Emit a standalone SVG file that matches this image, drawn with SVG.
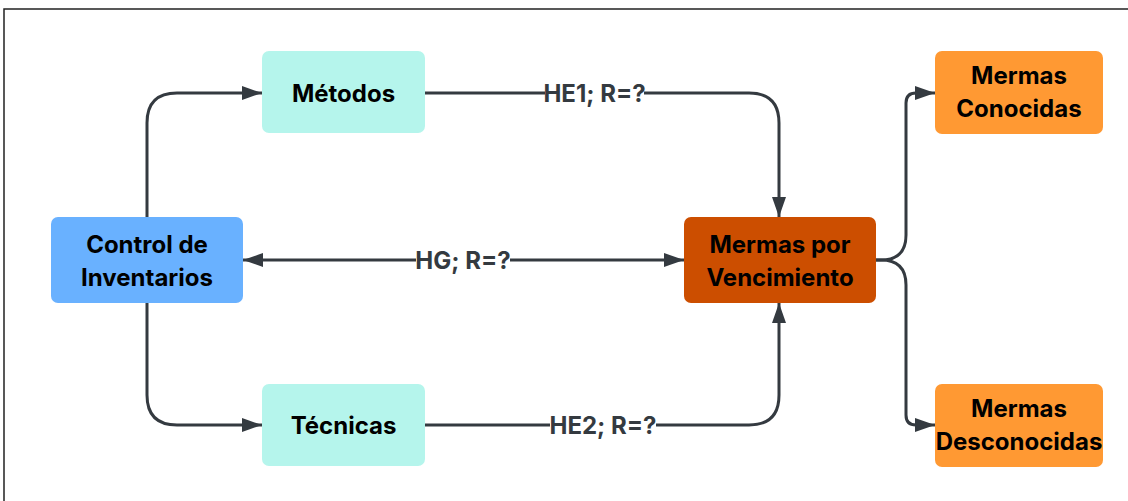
<svg xmlns="http://www.w3.org/2000/svg" width="1128" height="501" viewBox="0 0 1128 501">
<defs>
<marker id="ah" viewBox="0 0 20 14" refX="20" refY="7" markerWidth="20" markerHeight="14" markerUnits="userSpaceOnUse" orient="auto-start-reverse">
<path d="M0,0 L20,7 L0,14 Z" fill="#343a40"/>
</marker>
</defs>
<style>
.t{font-family:Inter,"Noto Sans","Liberation Sans",sans-serif;font-weight:700;font-size:24px;fill:#000;text-anchor:middle}
.l{font-family:Inter,"Noto Sans","Liberation Sans",sans-serif;font-weight:700;font-size:24px;fill:#343a40;text-anchor:middle}
.c{fill:none;stroke:#343a40;stroke-width:3;stroke-linejoin:round}
.bg{fill:#fff}
</style>
<rect x="0" y="0" width="1128" height="501" fill="#fff"/>
<rect x="4" y="9" width="1200" height="600" fill="none" stroke="#222" stroke-width="1.5"/>
<g id="connectors">
<path class="c" d="M147,217 V123 Q147,93 177,93 H262" marker-end="url(#ah)"/>
<path class="c" d="M147,303 V395 Q147,425 177,425 H262" marker-end="url(#ah)"/>
<path class="c" d="M425,93 H749 Q779,93 779,123 V217" marker-end="url(#ah)"/>
<path class="c" d="M425,425 H749 Q779,425 779,395 V303" marker-end="url(#ah)"/>
<path class="c" d="M243,260 H684" marker-start="url(#ah)" marker-end="url(#ah)"/>
<path class="c" d="M876,260 H881 Q906,260 906,235 V103 Q906,93 916,93 H935" marker-end="url(#ah)"/>
<path class="c" d="M876,260 H881 Q906,260 906,285 V415 Q906,425 916,425 H935" marker-end="url(#ah)"/>
<rect class="bg" x="545" y="80" width="99" height="26"/>
<text class="l" x="594.5" y="101.7">HE1; R=?</text>
<rect class="bg" x="416" y="247" width="94" height="26"/>
<text class="l" x="463" y="268.7">HG; R=?</text>
<rect class="bg" x="550" y="412" width="106" height="26"/>
<text class="l" x="603" y="433.7">HE2; R=?</text>
</g>
<g id="metodos">
<rect x="262" y="51" width="163" height="82" rx="7" fill="#b5f5ec"/>
<text class="t" x="343.5" y="101.7">Métodos</text>
</g>
<g id="tecnicas">
<rect x="262" y="384" width="163" height="82" rx="7" fill="#b5f5ec"/>
<text class="t" x="343.5" y="433.7">Técnicas</text>
</g>
<g id="control">
<rect x="51" y="217" width="192" height="86" rx="7" fill="#69b1ff"/>
<text class="t" x="147" y="252.7">Control de</text>
<text class="t" x="147" y="285.7">Inventarios</text>
</g>
<g id="vencimiento">
<rect x="684" y="217" width="192" height="86" rx="7" fill="#cc4e00"/>
<text class="t" x="780" y="252.7">Mermas por</text>
<text class="t" x="780" y="285.7">Vencimiento</text>
</g>
<g id="conocidas">
<rect x="935" y="51" width="168" height="83" rx="7" fill="#ff9933"/>
<text class="t" x="1019" y="84.2">Mermas</text>
<text class="t" x="1019" y="117.2">Conocidas</text>
</g>
<g id="desconocidas">
<rect x="935" y="384" width="168" height="83" rx="7" fill="#ff9933"/>
<text class="t" x="1019" y="417.2">Mermas</text>
<text class="t" x="1019" y="450.2">Desconocidas</text>
</g>
</svg>
